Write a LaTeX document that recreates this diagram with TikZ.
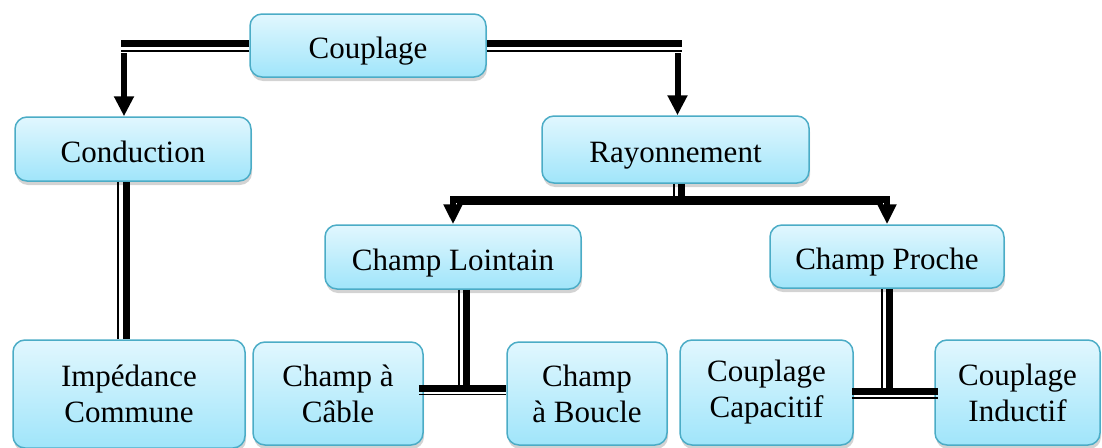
\documentclass[tikz,border=0pt]{standalone}
\usepackage{fontspec}
\setmainfont{Liberation Serif}
\usetikzlibrary{arrows.meta,calc,shadows}
\definecolor{bord}{RGB}{75,172,198}
\definecolor{ftop}{RGB}{225,247,254}
\definecolor{fbot}{RGB}{160,229,250}
\begin{document}
\begin{tikzpicture}[x=1pt,y=-1pt,
 box/.style={draw=bord, line width=1.5pt, rounded corners=12pt, top color=ftop, bottom color=fbot,
   align=center, font=\fontsize{31}{36}\selectfont, inner sep=0pt,
   drop shadow={shadow xshift=1pt,shadow yshift=-4pt,opacity=0.35}},
 one/.style={text height=26pt, text depth=0pt},
 thk/.style={line width=7pt},
 thn/.style={line width=1.8pt},
 arr/.style={line width=6pt, -{Triangle[width=19pt,length=20pt]}},
 arrb/.style={line width=6.5pt, line join=miter, {Triangle[width=18pt,length=20pt]}-{Triangle[width=18pt,length=20pt]}},
]
\useasboundingbox (0,0) rectangle (1102,447);

\node[box, one, minimum width=236pt, minimum height=63pt] (coup) at (368,45.5) {Couplage};
\node[box, one, minimum width=236pt, minimum height=64pt] (cond) at (133,149) {Conduction};
\node[box, one, minimum width=267pt, minimum height=67pt] (ray) at (675.5,149.5) {Rayonnement};
\node[box, one, minimum width=256pt, minimum height=64pt] (loin) at (453,257) {Champ Lointain};
\node[box, one, minimum width=234pt, minimum height=63pt] (proc) at (887,256.5) {Champ Proche};
\node[box, minimum width=232pt, minimum height=108pt] (imp) at (129,394) {Impédance\\Commune};
\node[box, minimum width=170pt, minimum height=103pt] (cab) at (338,393.5) {Champ à\\Câble};
\node[box, minimum width=160pt, minimum height=103pt] (bou) at (587,393.5) {Champ\\à Boucle};
\node[box, minimum width=173pt, minimum height=105pt] (cap) at (766.5,392.5) {Couplage\\Capacitif};
\node[box, minimum width=165pt, minimum height=105pt] (ind) at (1017.5,392.5) {Couplage\\Inductif};

% Couplage -> Conduction
\draw[thk] ($(coup.west)+(0,-2)$) -- ($(coup.west)+(-128,-2)$);
\draw[thn] ($(coup.west)+(0,5.5)$) -- ($(coup.west)+(-128,5.5)$);
\draw[arr] ($(cond.north)+(-9,-63)$) -- ($(cond.north)+(-9,0)$);

% Couplage -> Rayonnement
\draw[thk] ($(coup.east)+(0,-2)$) -- ($(coup.east)+(195,-2)$);
\draw[thn] ($(coup.east)+(0,5.5)$) -- ($(coup.east)+(195,5.5)$);
\draw[arr] ($(ray.north)+(2,-62)$) -- ($(ray.north)+(2,0)$);

% Rayonnement -> Champ Lointain / Champ Proche
\draw[thk] ($(ray.south)+(6,0)$) -- ($(ray.south)+(6,14)$);
\draw[thn] ($(ray.south)+(-1.5,0)$) -- ($(ray.south)+(-1.5,13)$);
\coordinate (hb) at ($(ray.south)+(0,15.5)$);
\draw[arrb] (loin.north) |- (hb) -| (proc.north);
\draw[thn] ($(loin.north)+(4,-20)$) -- ($(proc.north)+(-4,-20)$);

% Conduction -> Impedance Commune
\draw[thk] ($(cond.south)+(-6.5,0)$) -- ($(imp.north)+(-2.5,0)$);
\draw[thn] ($(cond.south)+(-15,0)$) -- ($(imp.north)+(-11,0)$);

% Champ Lointain -> Cable / Boucle
\draw[thk] ($(loin.south)+(13,0)$) -- ($(loin.south)+(13,99)$);
\draw[thn] ($(loin.south)+(6,0)$) -- ($(loin.south)+(6,95)$);
\draw[thk] ($(cab.east)+(-5,-5.5)$) -- ($(bou.west)+(0,-5.5)$);
\draw[thn] ($(cab.east)+(-5,1)$) -- ($(bou.west)+(0,1)$);

% Champ Proche -> Capacitif / Inductif
\draw[thk] ($(proc.south)+(2,0)$) -- ($(proc.south)+(2,103)$);
\draw[thn] ($(proc.south)+(-5,0)$) -- ($(proc.south)+(-5,99)$);
\draw[thk] ($(cap.east)+(-2,-1.5)$) -- ($(ind.west)+(4,-1.5)$);
\draw[thn] ($(cap.east)+(-2,5.5)$) -- ($(ind.west)+(4,5.5)$);
\end{tikzpicture}
\end{document}
